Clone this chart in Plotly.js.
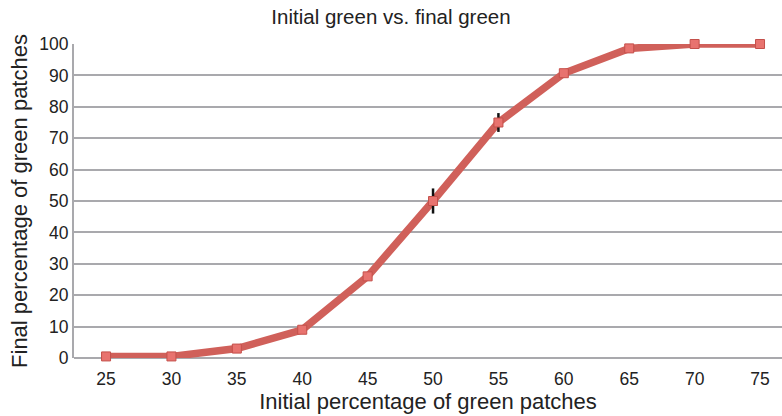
<!DOCTYPE html>
<html>
<head>
<meta charset="utf-8">
<script src="https://cdn.plot.ly/plotly-3.0.1.min.js"></script>
<style>html,body{margin:0;padding:0;background:#fff;}#chart{width:782px;height:416px;}</style>
</head>
<body>
<div id="chart"></div>
<script>
const initialPct = [25, 30, 35, 40, 45, 50, 55, 60, 65, 70, 75];
const finalPct = [0.5, 0.5, 3, 9, 26, 50, 75, 90.7, 98.6, 100, 100];
const errorVals = [0, 0, 0, 0, 0, 4, 3, 0, 0, 0, 0];
const yTicks = [0, 10, 20, 30, 40, 50, 60, 70, 80, 90, 100];

const font = "'Liberation Sans', Helvetica, Arial, sans-serif";
const titleFont = "'Liberation Sans Narrow', 'Liberation Sans', Arial, sans-serif";

const traces = [
  {
    x: initialPct, y: finalPct, type: 'scatter', mode: 'lines',
    line: {color: '#d0605a', width: 7.5, shape: 'linear'},
    hoverinfo: 'skip', showlegend: false, cliponaxis: false
  },
  {
    x: initialPct, y: finalPct, type: 'scatter', mode: 'markers',
    marker: {symbol: 'square', size: 9, color: '#e8736f', line: {color: '#c4504b', width: 1}},
    error_y: {type: 'data', array: errorVals, visible: true, color: '#111', thickness: 2.5, width: 0},
    showlegend: false, cliponaxis: false
  }
];

const layout = {
  width: 782, height: 416,
  margin: {l: 74, r: 0, t: 44, b: 58},
  paper_bgcolor: '#fff', plot_bgcolor: '#fff',
  title: {text: 'Initial green vs. final green', x: 0.5, xanchor: 'center', y: 0.977, yanchor: 'top',
          font: {family: titleFont, size: 20.5, color: '#222'}},
  xaxis: {
    range: [22.55, 76.68], tickvals: initialPct, ticktext: initialPct.map(String),
    showgrid: false, zeroline: false, showline: false,
    ticks: 'outside', ticklen: 5, tickcolor: 'rgba(0,0,0,0)',
    tickfont: {family: font, size: 17.5, color: '#222'},
    title: {text: 'Initial percentage of green patches', font: {family: font, size: 22, color: '#222'}, standoff: 4}
  },
  yaxis: {
    range: [0, 100], tickvals: yTicks,
    showgrid: true, gridcolor: '#a9a9ad', gridwidth: 2,
    zeroline: true, zerolinecolor: '#a9a9ad', zerolinewidth: 2,
    showline: true, linecolor: '#a9a9ad', linewidth: 2, ticks: '',
    tickfont: {family: font, size: 17.5, color: '#222'},
    title: {text: 'Final percentage of green patches', font: {family: font, size: 22, color: '#222'}, standoff: 6}
  }
};

Plotly.newPlot('chart', traces, layout, {displayModeBar: false, staticPlot: true});
</script>
</body>
</html>
